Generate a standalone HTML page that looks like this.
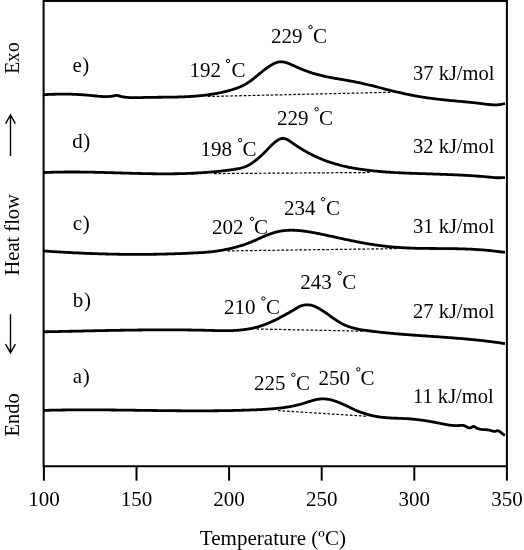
<!DOCTYPE html>
<html><head><meta charset="utf-8"><style>
html,body{margin:0;padding:0;background:#fff;}
body{width:524px;height:550px;overflow:hidden;font-family:"Liberation Serif",serif;}
svg{display:block;will-change:transform;}
</style></head><body>
<svg width="524" height="550" viewBox="0 0 524 550">
<rect x="0" y="0" width="524" height="550" fill="#fff"/>
<path d="M43.6,1.1 H506.9 V466.2 H43.6 Z" fill="none" stroke="#000" stroke-width="2"/>
<line x1="43.90" y1="466" x2="43.90" y2="480.7" stroke="#000" stroke-width="2"/>
<line x1="136.50" y1="466" x2="136.50" y2="480.7" stroke="#000" stroke-width="2"/>
<line x1="229.10" y1="466" x2="229.10" y2="480.7" stroke="#000" stroke-width="2"/>
<line x1="321.70" y1="466" x2="321.70" y2="480.7" stroke="#000" stroke-width="2"/>
<line x1="414.30" y1="466" x2="414.30" y2="480.7" stroke="#000" stroke-width="2"/>
<line x1="506.90" y1="466" x2="506.90" y2="480.7" stroke="#000" stroke-width="2"/>
<path d="M44.0,94.74 L45.0,94.68 L46.0,94.62 L47.0,94.56 L48.0,94.51 L49.0,94.46 L50.0,94.42 L51.0,94.37 L52.0,94.34 L53.0,94.30 L54.0,94.27 L55.0,94.24 L56.0,94.21 L57.0,94.19 L58.0,94.17 L59.0,94.15 L60.0,94.14 L61.0,94.13 L62.0,94.12 L63.0,94.12 L64.0,94.12 L65.0,94.13 L66.0,94.13 L67.0,94.14 L68.0,94.16 L69.0,94.18 L70.0,94.20 L71.0,94.22 L72.0,94.25 L73.0,94.28 L74.0,94.32 L75.0,94.36 L76.0,94.40 L77.0,94.45 L78.0,94.49 L79.0,94.55 L80.0,94.61 L81.0,94.67 L82.0,94.73 L83.0,94.80 L84.0,94.87 L85.0,94.95 L86.0,95.03 L87.0,95.11 L88.0,95.20 L89.0,95.29 L90.0,95.38 L91.0,95.48 L92.0,95.58 L93.0,95.68 L94.0,95.79 L95.0,95.89 L96.0,96.00 L97.0,96.10 L98.0,96.19 L99.0,96.28 L100.0,96.36 L101.0,96.43 L102.0,96.49 L103.0,96.54 L104.0,96.58 L105.0,96.60 L106.0,96.60 L107.0,96.59 L108.0,96.55 L109.0,96.50 L110.0,96.42 L111.0,96.32 L112.0,96.20 L113.0,96.03 L114.0,95.78 L115.0,95.52 L116.0,95.39 L117.0,95.45 L118.0,95.66 L119.0,95.94 L120.0,96.20 L121.0,96.44 L122.0,96.65 L123.0,96.84 L124.0,97.01 L125.0,97.15 L126.0,97.28 L127.0,97.38 L128.0,97.47 L129.0,97.54 L130.0,97.60 L131.0,97.65 L132.0,97.68 L133.0,97.70 L134.0,97.70 L135.0,97.70 L136.0,97.70 L137.0,97.68 L138.0,97.66 L139.0,97.64 L140.0,97.61 L141.0,97.58 L142.0,97.55 L143.0,97.52 L144.0,97.49 L145.0,97.47 L146.0,97.44 L147.0,97.42 L148.0,97.40 L149.0,97.38 L150.0,97.36 L151.0,97.35 L152.0,97.33 L153.0,97.32 L154.0,97.31 L155.0,97.30 L156.0,97.29 L157.0,97.28 L158.0,97.27 L159.0,97.26 L160.0,97.25 L161.0,97.24 L162.0,97.23 L163.0,97.22 L164.0,97.21 L165.0,97.21 L166.0,97.20 L167.0,97.19 L168.0,97.17 L169.0,97.16 L170.0,97.15 L171.0,97.14 L172.0,97.12 L173.0,97.11 L174.0,97.09 L175.0,97.07 L176.0,97.05 L177.0,97.03 L178.0,97.00 L179.0,96.97 L180.0,96.95 L181.0,96.91 L182.0,96.88 L183.0,96.84 L184.0,96.81 L185.0,96.76 L186.0,96.72 L187.0,96.67 L188.0,96.62 L189.0,96.57 L190.0,96.51 L191.0,96.45 L192.0,96.39 L193.0,96.32 L194.0,96.25 L195.0,96.17 L196.0,96.09 L197.0,96.00 L198.0,95.92 L199.0,95.82 L200.0,95.73 L201.0,95.62 L202.0,95.52 L203.0,95.41 L204.0,95.29 L205.0,95.17 L206.0,95.05 L207.0,94.92 L208.0,94.79 L209.0,94.65 L210.0,94.51 L211.0,94.36 L212.0,94.21 L213.0,94.05 L214.0,93.88 L215.0,93.71 L216.0,93.53 L217.0,93.35 L218.0,93.16 L219.0,92.96 L220.0,92.75 L221.0,92.54 L222.0,92.32 L223.0,92.09 L224.0,91.86 L225.0,91.62 L226.0,91.37 L227.0,91.11 L228.0,90.85 L229.0,90.58 L230.0,90.30 L231.0,90.01 L232.0,89.72 L233.0,89.42 L234.0,89.10 L235.0,88.78 L236.0,88.44 L237.0,88.09 L238.0,87.72 L239.0,87.32 L240.0,86.91 L241.0,86.47 L242.0,86.01 L243.0,85.52 L244.0,85.01 L245.0,84.47 L246.0,83.90 L247.0,83.30 L248.0,82.67 L249.0,82.01 L250.0,81.31 L251.0,80.58 L252.0,79.83 L253.0,79.05 L254.0,78.26 L255.0,77.45 L256.0,76.63 L257.0,75.81 L258.0,74.98 L259.0,74.16 L260.0,73.34 L261.0,72.53 L262.0,71.73 L263.0,70.93 L264.0,70.15 L265.0,69.38 L266.0,68.64 L267.0,67.91 L268.0,67.20 L269.0,66.52 L270.0,65.86 L271.0,65.23 L272.0,64.63 L273.0,64.08 L274.0,63.57 L275.0,63.12 L276.0,62.74 L277.0,62.41 L278.0,62.16 L279.0,61.98 L280.0,61.87 L281.0,61.84 L282.0,61.88 L283.0,61.98 L284.0,62.14 L285.0,62.36 L286.0,62.63 L287.0,62.93 L288.0,63.28 L289.0,63.66 L290.0,64.06 L291.0,64.48 L292.0,64.92 L293.0,65.37 L294.0,65.81 L295.0,66.26 L296.0,66.71 L297.0,67.15 L298.0,67.60 L299.0,68.04 L300.0,68.47 L301.0,68.90 L302.0,69.32 L303.0,69.73 L304.0,70.14 L305.0,70.53 L306.0,70.92 L307.0,71.29 L308.0,71.65 L309.0,72.00 L310.0,72.34 L311.0,72.67 L312.0,72.99 L313.0,73.29 L314.0,73.59 L315.0,73.89 L316.0,74.17 L317.0,74.44 L318.0,74.71 L319.0,74.97 L320.0,75.22 L321.0,75.46 L322.0,75.70 L323.0,75.93 L324.0,76.16 L325.0,76.38 L326.0,76.59 L327.0,76.80 L328.0,77.00 L329.0,77.20 L330.0,77.40 L331.0,77.59 L332.0,77.78 L333.0,77.96 L334.0,78.15 L335.0,78.33 L336.0,78.50 L337.0,78.68 L338.0,78.85 L339.0,79.03 L340.0,79.20 L341.0,79.37 L342.0,79.54 L343.0,79.71 L344.0,79.88 L345.0,80.05 L346.0,80.22 L347.0,80.40 L348.0,80.57 L349.0,80.75 L350.0,80.93 L351.0,81.11 L352.0,81.30 L353.0,81.49 L354.0,81.68 L355.0,81.87 L356.0,82.07 L357.0,82.28 L358.0,82.49 L359.0,82.70 L360.0,82.91 L361.0,83.13 L362.0,83.36 L363.0,83.58 L364.0,83.81 L365.0,84.04 L366.0,84.28 L367.0,84.51 L368.0,84.75 L369.0,84.99 L370.0,85.24 L371.0,85.48 L372.0,85.73 L373.0,85.98 L374.0,86.23 L375.0,86.48 L376.0,86.73 L377.0,86.99 L378.0,87.24 L379.0,87.49 L380.0,87.75 L381.0,88.01 L382.0,88.26 L383.0,88.52 L384.0,88.77 L385.0,89.03 L386.0,89.28 L387.0,89.54 L388.0,89.79 L389.0,90.04 L390.0,90.30 L391.0,90.55 L392.0,90.79 L393.0,91.04 L394.0,91.29 L395.0,91.53 L396.0,91.77 L397.0,92.01 L398.0,92.25 L399.0,92.48 L400.0,92.71 L401.0,92.94 L402.0,93.17 L403.0,93.39 L404.0,93.61 L405.0,93.83 L406.0,94.04 L407.0,94.25 L408.0,94.46 L409.0,94.66 L410.0,94.86 L411.0,95.06 L412.0,95.25 L413.0,95.45 L414.0,95.63 L415.0,95.82 L416.0,96.00 L417.0,96.18 L418.0,96.36 L419.0,96.53 L420.0,96.70 L421.0,96.86 L422.0,97.03 L423.0,97.19 L424.0,97.34 L425.0,97.49 L426.0,97.65 L427.0,97.79 L428.0,97.94 L429.0,98.08 L430.0,98.21 L431.0,98.35 L432.0,98.48 L433.0,98.61 L434.0,98.73 L435.0,98.86 L436.0,98.98 L437.0,99.09 L438.0,99.21 L439.0,99.32 L440.0,99.43 L441.0,99.54 L442.0,99.65 L443.0,99.75 L444.0,99.86 L445.0,99.96 L446.0,100.06 L447.0,100.16 L448.0,100.26 L449.0,100.35 L450.0,100.45 L451.0,100.54 L452.0,100.64 L453.0,100.73 L454.0,100.82 L455.0,100.92 L456.0,101.01 L457.0,101.10 L458.0,101.19 L459.0,101.28 L460.0,101.38 L461.0,101.47 L462.0,101.56 L463.0,101.65 L464.0,101.75 L465.0,101.84 L466.0,101.93 L467.0,102.03 L468.0,102.13 L469.0,102.22 L470.0,102.32 L471.0,102.42 L472.0,102.52 L473.0,102.63 L474.0,102.73 L475.0,102.84 L476.0,102.95 L477.0,103.06 L478.0,103.17 L479.0,103.29 L480.0,103.41 L481.0,103.53 L482.0,103.65 L483.0,103.77 L484.0,103.90 L485.0,104.03 L486.0,104.15 L487.0,104.28 L488.0,104.39 L489.0,104.50 L490.0,104.59 L491.0,104.68 L492.0,104.75 L493.0,104.80 L494.0,104.84 L495.0,104.85 L496.0,104.85 L497.0,104.81 L498.0,104.76 L499.0,104.67 L500.0,104.55 L501.0,104.41 L502.0,104.22 L503.0,104.00 L504.0,103.75 L505.0,103.45" fill="none" stroke="#000" stroke-width="2.8" stroke-linejoin="round" stroke-linecap="butt"/>
<path d="M44.0,172.57 L45.0,172.53 L46.0,172.49 L47.0,172.44 L48.0,172.41 L49.0,172.37 L50.0,172.33 L51.0,172.30 L52.0,172.27 L53.0,172.24 L54.0,172.21 L55.0,172.18 L56.0,172.16 L57.0,172.13 L58.0,172.11 L59.0,172.09 L60.0,172.08 L61.0,172.06 L62.0,172.04 L63.0,172.03 L64.0,172.02 L65.0,172.01 L66.0,172.00 L67.0,171.99 L68.0,171.99 L69.0,171.98 L70.0,171.98 L71.0,171.98 L72.0,171.98 L73.0,171.98 L74.0,171.98 L75.0,171.98 L76.0,171.99 L77.0,171.99 L78.0,172.00 L79.0,172.01 L80.0,172.02 L81.0,172.03 L82.0,172.04 L83.0,172.05 L84.0,172.06 L85.0,172.08 L86.0,172.09 L87.0,172.11 L88.0,172.13 L89.0,172.14 L90.0,172.16 L91.0,172.18 L92.0,172.20 L93.0,172.22 L94.0,172.24 L95.0,172.26 L96.0,172.29 L97.0,172.31 L98.0,172.33 L99.0,172.36 L100.0,172.38 L101.0,172.41 L102.0,172.43 L103.0,172.46 L104.0,172.49 L105.0,172.51 L106.0,172.54 L107.0,172.57 L108.0,172.60 L109.0,172.63 L110.0,172.65 L111.0,172.68 L112.0,172.71 L113.0,172.74 L114.0,172.77 L115.0,172.80 L116.0,172.83 L117.0,172.86 L118.0,172.89 L119.0,172.92 L120.0,172.95 L121.0,172.98 L122.0,173.01 L123.0,173.04 L124.0,173.07 L125.0,173.10 L126.0,173.13 L127.0,173.16 L128.0,173.18 L129.0,173.21 L130.0,173.24 L131.0,173.27 L132.0,173.30 L133.0,173.32 L134.0,173.35 L135.0,173.38 L136.0,173.40 L137.0,173.43 L138.0,173.45 L139.0,173.48 L140.0,173.50 L141.0,173.52 L142.0,173.55 L143.0,173.57 L144.0,173.59 L145.0,173.61 L146.0,173.63 L147.0,173.65 L148.0,173.67 L149.0,173.68 L150.0,173.70 L151.0,173.72 L152.0,173.73 L153.0,173.74 L154.0,173.76 L155.0,173.77 L156.0,173.78 L157.0,173.79 L158.0,173.80 L159.0,173.81 L160.0,173.81 L161.0,173.82 L162.0,173.82 L163.0,173.83 L164.0,173.83 L165.0,173.83 L166.0,173.83 L167.0,173.83 L168.0,173.82 L169.0,173.82 L170.0,173.81 L171.0,173.80 L172.0,173.80 L173.0,173.78 L174.0,173.77 L175.0,173.76 L176.0,173.74 L177.0,173.73 L178.0,173.71 L179.0,173.69 L180.0,173.67 L181.0,173.65 L182.0,173.62 L183.0,173.59 L184.0,173.57 L185.0,173.54 L186.0,173.50 L187.0,173.47 L188.0,173.43 L189.0,173.40 L190.0,173.36 L191.0,173.32 L192.0,173.27 L193.0,173.23 L194.0,173.18 L195.0,173.13 L196.0,173.08 L197.0,173.02 L198.0,172.97 L199.0,172.91 L200.0,172.85 L201.0,172.79 L202.0,172.72 L203.0,172.66 L204.0,172.59 L205.0,172.52 L206.0,172.44 L207.0,172.37 L208.0,172.29 L209.0,172.21 L210.0,172.13 L211.0,172.05 L212.0,171.96 L213.0,171.88 L214.0,171.79 L215.0,171.69 L216.0,171.60 L217.0,171.50 L218.0,171.40 L219.0,171.30 L220.0,171.19 L221.0,171.08 L222.0,170.97 L223.0,170.86 L224.0,170.74 L225.0,170.62 L226.0,170.50 L227.0,170.37 L228.0,170.24 L229.0,170.11 L230.0,169.98 L231.0,169.84 L232.0,169.70 L233.0,169.55 L234.0,169.40 L235.0,169.25 L236.0,169.08 L237.0,168.91 L238.0,168.72 L239.0,168.51 L240.0,168.29 L241.0,168.04 L242.0,167.77 L243.0,167.47 L244.0,167.14 L245.0,166.78 L246.0,166.38 L247.0,165.95 L248.0,165.47 L249.0,164.95 L250.0,164.39 L251.0,163.78 L252.0,163.14 L253.0,162.45 L254.0,161.73 L255.0,160.97 L256.0,160.19 L257.0,159.36 L258.0,158.52 L259.0,157.64 L260.0,156.74 L261.0,155.82 L262.0,154.88 L263.0,153.91 L264.0,152.93 L265.0,151.94 L266.0,150.94 L267.0,149.92 L268.0,148.89 L269.0,147.86 L270.0,146.84 L271.0,145.82 L272.0,144.84 L273.0,143.88 L274.0,142.97 L275.0,142.12 L276.0,141.33 L277.0,140.61 L278.0,139.98 L279.0,139.44 L280.0,139.01 L281.0,138.69 L282.0,138.50 L283.0,138.44 L284.0,138.52 L285.0,138.73 L286.0,139.05 L287.0,139.48 L288.0,140.00 L289.0,140.60 L290.0,141.25 L291.0,141.94 L292.0,142.65 L293.0,143.36 L294.0,144.06 L295.0,144.75 L296.0,145.43 L297.0,146.10 L298.0,146.75 L299.0,147.40 L300.0,148.03 L301.0,148.65 L302.0,149.25 L303.0,149.85 L304.0,150.44 L305.0,151.01 L306.0,151.58 L307.0,152.13 L308.0,152.68 L309.0,153.21 L310.0,153.74 L311.0,154.26 L312.0,154.76 L313.0,155.26 L314.0,155.74 L315.0,156.22 L316.0,156.69 L317.0,157.15 L318.0,157.59 L319.0,158.03 L320.0,158.46 L321.0,158.88 L322.0,159.29 L323.0,159.69 L324.0,160.08 L325.0,160.46 L326.0,160.84 L327.0,161.20 L328.0,161.56 L329.0,161.90 L330.0,162.24 L331.0,162.57 L332.0,162.90 L333.0,163.21 L334.0,163.52 L335.0,163.82 L336.0,164.12 L337.0,164.41 L338.0,164.69 L339.0,164.97 L340.0,165.24 L341.0,165.50 L342.0,165.75 L343.0,166.00 L344.0,166.24 L345.0,166.47 L346.0,166.69 L347.0,166.91 L348.0,167.12 L349.0,167.32 L350.0,167.52 L351.0,167.71 L352.0,167.89 L353.0,168.07 L354.0,168.24 L355.0,168.41 L356.0,168.57 L357.0,168.73 L358.0,168.88 L359.0,169.03 L360.0,169.18 L361.0,169.33 L362.0,169.47 L363.0,169.60 L364.0,169.73 L365.0,169.86 L366.0,169.99 L367.0,170.12 L368.0,170.24 L369.0,170.36 L370.0,170.47 L371.0,170.59 L372.0,170.70 L373.0,170.81 L374.0,170.91 L375.0,171.02 L376.0,171.12 L377.0,171.22 L378.0,171.32 L379.0,171.41 L380.0,171.50 L381.0,171.59 L382.0,171.68 L383.0,171.76 L384.0,171.84 L385.0,171.92 L386.0,171.99 L387.0,172.06 L388.0,172.13 L389.0,172.20 L390.0,172.26 L391.0,172.32 L392.0,172.38 L393.0,172.44 L394.0,172.50 L395.0,172.55 L396.0,172.61 L397.0,172.66 L398.0,172.71 L399.0,172.76 L400.0,172.81 L401.0,172.86 L402.0,172.91 L403.0,172.95 L404.0,173.00 L405.0,173.04 L406.0,173.08 L407.0,173.12 L408.0,173.16 L409.0,173.20 L410.0,173.23 L411.0,173.27 L412.0,173.30 L413.0,173.34 L414.0,173.37 L415.0,173.40 L416.0,173.43 L417.0,173.47 L418.0,173.50 L419.0,173.53 L420.0,173.56 L421.0,173.59 L422.0,173.62 L423.0,173.65 L424.0,173.69 L425.0,173.72 L426.0,173.75 L427.0,173.78 L428.0,173.82 L429.0,173.85 L430.0,173.89 L431.0,173.92 L432.0,173.96 L433.0,173.99 L434.0,174.03 L435.0,174.07 L436.0,174.10 L437.0,174.14 L438.0,174.18 L439.0,174.21 L440.0,174.25 L441.0,174.29 L442.0,174.32 L443.0,174.36 L444.0,174.40 L445.0,174.44 L446.0,174.47 L447.0,174.51 L448.0,174.55 L449.0,174.59 L450.0,174.63 L451.0,174.67 L452.0,174.71 L453.0,174.75 L454.0,174.79 L455.0,174.84 L456.0,174.88 L457.0,174.92 L458.0,174.97 L459.0,175.01 L460.0,175.06 L461.0,175.11 L462.0,175.15 L463.0,175.21 L464.0,175.26 L465.0,175.31 L466.0,175.37 L467.0,175.43 L468.0,175.49 L469.0,175.55 L470.0,175.61 L471.0,175.68 L472.0,175.74 L473.0,175.81 L474.0,175.88 L475.0,175.95 L476.0,176.02 L477.0,176.09 L478.0,176.17 L479.0,176.24 L480.0,176.32 L481.0,176.39 L482.0,176.47 L483.0,176.56 L484.0,176.64 L485.0,176.72 L486.0,176.81 L487.0,176.90 L488.0,176.98 L489.0,177.07 L490.0,177.16 L491.0,177.25 L492.0,177.34 L493.0,177.43 L494.0,177.52 L495.0,177.60 L496.0,177.67 L497.0,177.73 L498.0,177.76 L499.0,177.77 L500.0,177.75 L501.0,177.72 L502.0,177.66 L503.0,177.60 L504.0,177.56 L505.0,177.54" fill="none" stroke="#000" stroke-width="2.8" stroke-linejoin="round" stroke-linecap="butt"/>
<path d="M44.0,251.00 L45.0,251.07 L46.0,251.14 L47.0,251.20 L48.0,251.27 L49.0,251.34 L50.0,251.40 L51.0,251.47 L52.0,251.53 L53.0,251.59 L54.0,251.66 L55.0,251.72 L56.0,251.78 L57.0,251.84 L58.0,251.90 L59.0,251.96 L60.0,252.02 L61.0,252.08 L62.0,252.14 L63.0,252.20 L64.0,252.25 L65.0,252.31 L66.0,252.36 L67.0,252.42 L68.0,252.47 L69.0,252.52 L70.0,252.58 L71.0,252.63 L72.0,252.68 L73.0,252.73 L74.0,252.78 L75.0,252.83 L76.0,252.88 L77.0,252.92 L78.0,252.97 L79.0,253.02 L80.0,253.06 L81.0,253.11 L82.0,253.15 L83.0,253.19 L84.0,253.24 L85.0,253.28 L86.0,253.32 L87.0,253.36 L88.0,253.40 L89.0,253.44 L90.0,253.48 L91.0,253.51 L92.0,253.55 L93.0,253.59 L94.0,253.62 L95.0,253.66 L96.0,253.69 L97.0,253.72 L98.0,253.76 L99.0,253.79 L100.0,253.82 L101.0,253.85 L102.0,253.88 L103.0,253.90 L104.0,253.93 L105.0,253.96 L106.0,253.99 L107.0,254.01 L108.0,254.04 L109.0,254.06 L110.0,254.08 L111.0,254.10 L112.0,254.13 L113.0,254.15 L114.0,254.17 L115.0,254.18 L116.0,254.20 L117.0,254.22 L118.0,254.24 L119.0,254.25 L120.0,254.27 L121.0,254.28 L122.0,254.29 L123.0,254.31 L124.0,254.32 L125.0,254.33 L126.0,254.34 L127.0,254.35 L128.0,254.36 L129.0,254.36 L130.0,254.37 L131.0,254.38 L132.0,254.38 L133.0,254.38 L134.0,254.39 L135.0,254.39 L136.0,254.39 L137.0,254.39 L138.0,254.39 L139.0,254.39 L140.0,254.39 L141.0,254.39 L142.0,254.38 L143.0,254.38 L144.0,254.37 L145.0,254.37 L146.0,254.36 L147.0,254.35 L148.0,254.34 L149.0,254.33 L150.0,254.32 L151.0,254.31 L152.0,254.30 L153.0,254.28 L154.0,254.27 L155.0,254.25 L156.0,254.24 L157.0,254.22 L158.0,254.20 L159.0,254.18 L160.0,254.16 L161.0,254.14 L162.0,254.12 L163.0,254.10 L164.0,254.07 L165.0,254.05 L166.0,254.02 L167.0,254.00 L168.0,253.97 L169.0,253.94 L170.0,253.91 L171.0,253.88 L172.0,253.85 L173.0,253.82 L174.0,253.79 L175.0,253.76 L176.0,253.72 L177.0,253.69 L178.0,253.65 L179.0,253.62 L180.0,253.58 L181.0,253.54 L182.0,253.50 L183.0,253.46 L184.0,253.42 L185.0,253.38 L186.0,253.33 L187.0,253.29 L188.0,253.25 L189.0,253.20 L190.0,253.15 L191.0,253.11 L192.0,253.06 L193.0,253.01 L194.0,252.97 L195.0,252.92 L196.0,252.87 L197.0,252.82 L198.0,252.77 L199.0,252.72 L200.0,252.67 L201.0,252.61 L202.0,252.55 L203.0,252.49 L204.0,252.42 L205.0,252.35 L206.0,252.27 L207.0,252.19 L208.0,252.10 L209.0,252.00 L210.0,251.90 L211.0,251.80 L212.0,251.68 L213.0,251.56 L214.0,251.43 L215.0,251.30 L216.0,251.16 L217.0,251.01 L218.0,250.86 L219.0,250.70 L220.0,250.54 L221.0,250.37 L222.0,250.20 L223.0,250.02 L224.0,249.83 L225.0,249.64 L226.0,249.44 L227.0,249.23 L228.0,249.02 L229.0,248.80 L230.0,248.57 L231.0,248.33 L232.0,248.09 L233.0,247.84 L234.0,247.59 L235.0,247.33 L236.0,247.07 L237.0,246.80 L238.0,246.52 L239.0,246.24 L240.0,245.96 L241.0,245.67 L242.0,245.36 L243.0,245.05 L244.0,244.72 L245.0,244.39 L246.0,244.04 L247.0,243.68 L248.0,243.30 L249.0,242.92 L250.0,242.52 L251.0,242.11 L252.0,241.68 L253.0,241.25 L254.0,240.81 L255.0,240.37 L256.0,239.92 L257.0,239.47 L258.0,239.02 L259.0,238.56 L260.0,238.11 L261.0,237.66 L262.0,237.21 L263.0,236.77 L264.0,236.34 L265.0,235.91 L266.0,235.50 L267.0,235.10 L268.0,234.71 L269.0,234.34 L270.0,233.97 L271.0,233.63 L272.0,233.29 L273.0,232.98 L274.0,232.67 L275.0,232.39 L276.0,232.13 L277.0,231.88 L278.0,231.65 L279.0,231.43 L280.0,231.24 L281.0,231.06 L282.0,230.90 L283.0,230.76 L284.0,230.63 L285.0,230.52 L286.0,230.43 L287.0,230.36 L288.0,230.30 L289.0,230.25 L290.0,230.23 L291.0,230.21 L292.0,230.22 L293.0,230.23 L294.0,230.26 L295.0,230.30 L296.0,230.35 L297.0,230.41 L298.0,230.48 L299.0,230.57 L300.0,230.66 L301.0,230.76 L302.0,230.87 L303.0,230.99 L304.0,231.12 L305.0,231.25 L306.0,231.39 L307.0,231.54 L308.0,231.70 L309.0,231.86 L310.0,232.02 L311.0,232.19 L312.0,232.37 L313.0,232.55 L314.0,232.74 L315.0,232.92 L316.0,233.11 L317.0,233.31 L318.0,233.50 L319.0,233.70 L320.0,233.90 L321.0,234.11 L322.0,234.31 L323.0,234.52 L324.0,234.73 L325.0,234.94 L326.0,235.15 L327.0,235.37 L328.0,235.58 L329.0,235.80 L330.0,236.02 L331.0,236.24 L332.0,236.46 L333.0,236.68 L334.0,236.90 L335.0,237.12 L336.0,237.34 L337.0,237.56 L338.0,237.78 L339.0,238.00 L340.0,238.22 L341.0,238.44 L342.0,238.66 L343.0,238.87 L344.0,239.09 L345.0,239.31 L346.0,239.52 L347.0,239.73 L348.0,239.95 L349.0,240.16 L350.0,240.37 L351.0,240.57 L352.0,240.78 L353.0,240.98 L354.0,241.18 L355.0,241.38 L356.0,241.58 L357.0,241.77 L358.0,241.97 L359.0,242.16 L360.0,242.35 L361.0,242.53 L362.0,242.72 L363.0,242.90 L364.0,243.08 L365.0,243.26 L366.0,243.43 L367.0,243.61 L368.0,243.78 L369.0,243.94 L370.0,244.11 L371.0,244.27 L372.0,244.43 L373.0,244.59 L374.0,244.74 L375.0,244.89 L376.0,245.04 L377.0,245.18 L378.0,245.32 L379.0,245.46 L380.0,245.60 L381.0,245.73 L382.0,245.85 L383.0,245.98 L384.0,246.10 L385.0,246.22 L386.0,246.33 L387.0,246.44 L388.0,246.55 L389.0,246.65 L390.0,246.75 L391.0,246.84 L392.0,246.93 L393.0,247.02 L394.0,247.11 L395.0,247.19 L396.0,247.27 L397.0,247.34 L398.0,247.42 L399.0,247.49 L400.0,247.55 L401.0,247.61 L402.0,247.68 L403.0,247.73 L404.0,247.79 L405.0,247.84 L406.0,247.89 L407.0,247.94 L408.0,247.98 L409.0,248.02 L410.0,248.06 L411.0,248.10 L412.0,248.14 L413.0,248.17 L414.0,248.20 L415.0,248.23 L416.0,248.26 L417.0,248.28 L418.0,248.31 L419.0,248.33 L420.0,248.35 L421.0,248.37 L422.0,248.38 L423.0,248.40 L424.0,248.41 L425.0,248.43 L426.0,248.44 L427.0,248.45 L428.0,248.46 L429.0,248.47 L430.0,248.48 L431.0,248.49 L432.0,248.50 L433.0,248.50 L434.0,248.51 L435.0,248.52 L436.0,248.52 L437.0,248.53 L438.0,248.53 L439.0,248.54 L440.0,248.55 L441.0,248.55 L442.0,248.56 L443.0,248.57 L444.0,248.57 L445.0,248.58 L446.0,248.59 L447.0,248.60 L448.0,248.61 L449.0,248.62 L450.0,248.63 L451.0,248.65 L452.0,248.66 L453.0,248.68 L454.0,248.69 L455.0,248.71 L456.0,248.73 L457.0,248.75 L458.0,248.77 L459.0,248.79 L460.0,248.82 L461.0,248.84 L462.0,248.87 L463.0,248.90 L464.0,248.93 L465.0,248.97 L466.0,249.00 L467.0,249.04 L468.0,249.08 L469.0,249.12 L470.0,249.16 L471.0,249.21 L472.0,249.26 L473.0,249.31 L474.0,249.36 L475.0,249.42 L476.0,249.48 L477.0,249.54 L478.0,249.60 L479.0,249.67 L480.0,249.74 L481.0,249.81 L482.0,249.89 L483.0,249.97 L484.0,250.05 L485.0,250.14 L486.0,250.23 L487.0,250.32 L488.0,250.41 L489.0,250.51 L490.0,250.61 L491.0,250.72 L492.0,250.82 L493.0,250.93 L494.0,251.04 L495.0,251.16 L496.0,251.27 L497.0,251.39 L498.0,251.50 L499.0,251.62 L500.0,251.74 L501.0,251.87 L502.0,251.99 L503.0,252.11 L504.0,252.23 L505.0,252.36" fill="none" stroke="#000" stroke-width="2.8" stroke-linejoin="round" stroke-linecap="butt"/>
<path d="M44.0,331.81 L45.0,331.79 L46.0,331.77 L47.0,331.75 L48.0,331.73 L49.0,331.71 L50.0,331.69 L51.0,331.67 L52.0,331.65 L53.0,331.63 L54.0,331.61 L55.0,331.59 L56.0,331.57 L57.0,331.55 L58.0,331.53 L59.0,331.51 L60.0,331.48 L61.0,331.46 L62.0,331.44 L63.0,331.42 L64.0,331.40 L65.0,331.38 L66.0,331.36 L67.0,331.34 L68.0,331.31 L69.0,331.29 L70.0,331.27 L71.0,331.25 L72.0,331.23 L73.0,331.21 L74.0,331.19 L75.0,331.16 L76.0,331.14 L77.0,331.12 L78.0,331.10 L79.0,331.08 L80.0,331.06 L81.0,331.04 L82.0,331.01 L83.0,330.99 L84.0,330.97 L85.0,330.95 L86.0,330.93 L87.0,330.91 L88.0,330.89 L89.0,330.86 L90.0,330.84 L91.0,330.82 L92.0,330.80 L93.0,330.78 L94.0,330.76 L95.0,330.74 L96.0,330.72 L97.0,330.70 L98.0,330.68 L99.0,330.66 L100.0,330.64 L101.0,330.62 L102.0,330.60 L103.0,330.58 L104.0,330.56 L105.0,330.54 L106.0,330.52 L107.0,330.50 L108.0,330.48 L109.0,330.47 L110.0,330.45 L111.0,330.43 L112.0,330.41 L113.0,330.39 L114.0,330.38 L115.0,330.36 L116.0,330.34 L117.0,330.32 L118.0,330.31 L119.0,330.29 L120.0,330.27 L121.0,330.26 L122.0,330.24 L123.0,330.23 L124.0,330.21 L125.0,330.20 L126.0,330.18 L127.0,330.17 L128.0,330.15 L129.0,330.14 L130.0,330.12 L131.0,330.11 L132.0,330.10 L133.0,330.08 L134.0,330.07 L135.0,330.06 L136.0,330.05 L137.0,330.04 L138.0,330.02 L139.0,330.01 L140.0,330.00 L141.0,329.99 L142.0,329.98 L143.0,329.97 L144.0,329.96 L145.0,329.95 L146.0,329.95 L147.0,329.94 L148.0,329.93 L149.0,329.92 L150.0,329.92 L151.0,329.91 L152.0,329.90 L153.0,329.90 L154.0,329.89 L155.0,329.89 L156.0,329.88 L157.0,329.88 L158.0,329.87 L159.0,329.87 L160.0,329.87 L161.0,329.86 L162.0,329.86 L163.0,329.86 L164.0,329.86 L165.0,329.86 L166.0,329.86 L167.0,329.86 L168.0,329.86 L169.0,329.86 L170.0,329.86 L171.0,329.87 L172.0,329.87 L173.0,329.87 L174.0,329.88 L175.0,329.88 L176.0,329.89 L177.0,329.89 L178.0,329.90 L179.0,329.90 L180.0,329.91 L181.0,329.92 L182.0,329.93 L183.0,329.93 L184.0,329.94 L185.0,329.95 L186.0,329.96 L187.0,329.97 L188.0,329.99 L189.0,330.00 L190.0,330.01 L191.0,330.02 L192.0,330.04 L193.0,330.05 L194.0,330.07 L195.0,330.08 L196.0,330.10 L197.0,330.12 L198.0,330.14 L199.0,330.15 L200.0,330.17 L201.0,330.19 L202.0,330.21 L203.0,330.23 L204.0,330.25 L205.0,330.28 L206.0,330.30 L207.0,330.32 L208.0,330.35 L209.0,330.37 L210.0,330.40 L211.0,330.43 L212.0,330.45 L213.0,330.48 L214.0,330.51 L215.0,330.53 L216.0,330.56 L217.0,330.58 L218.0,330.60 L219.0,330.62 L220.0,330.64 L221.0,330.66 L222.0,330.67 L223.0,330.68 L224.0,330.69 L225.0,330.69 L226.0,330.69 L227.0,330.68 L228.0,330.67 L229.0,330.65 L230.0,330.63 L231.0,330.61 L232.0,330.57 L233.0,330.53 L234.0,330.49 L235.0,330.43 L236.0,330.37 L237.0,330.31 L238.0,330.23 L239.0,330.15 L240.0,330.06 L241.0,329.96 L242.0,329.85 L243.0,329.74 L244.0,329.62 L245.0,329.49 L246.0,329.36 L247.0,329.21 L248.0,329.06 L249.0,328.89 L250.0,328.72 L251.0,328.53 L252.0,328.33 L253.0,328.12 L254.0,327.90 L255.0,327.66 L256.0,327.41 L257.0,327.14 L258.0,326.86 L259.0,326.56 L260.0,326.25 L261.0,325.92 L262.0,325.58 L263.0,325.23 L264.0,324.87 L265.0,324.49 L266.0,324.10 L267.0,323.70 L268.0,323.29 L269.0,322.87 L270.0,322.44 L271.0,322.00 L272.0,321.55 L273.0,321.08 L274.0,320.61 L275.0,320.13 L276.0,319.64 L277.0,319.15 L278.0,318.64 L279.0,318.13 L280.0,317.61 L281.0,317.08 L282.0,316.54 L283.0,316.00 L284.0,315.45 L285.0,314.90 L286.0,314.34 L287.0,313.79 L288.0,313.22 L289.0,312.66 L290.0,312.09 L291.0,311.52 L292.0,310.94 L293.0,310.34 L294.0,309.74 L295.0,309.13 L296.0,308.52 L297.0,307.92 L298.0,307.35 L299.0,306.81 L300.0,306.33 L301.0,305.91 L302.0,305.55 L303.0,305.27 L304.0,305.06 L305.0,304.91 L306.0,304.82 L307.0,304.79 L308.0,304.81 L309.0,304.89 L310.0,305.02 L311.0,305.21 L312.0,305.46 L313.0,305.76 L314.0,306.11 L315.0,306.51 L316.0,306.95 L317.0,307.44 L318.0,307.95 L319.0,308.50 L320.0,309.08 L321.0,309.69 L322.0,310.32 L323.0,310.97 L324.0,311.64 L325.0,312.32 L326.0,313.02 L327.0,313.72 L328.0,314.44 L329.0,315.15 L330.0,315.88 L331.0,316.59 L332.0,317.31 L333.0,318.02 L334.0,318.72 L335.0,319.41 L336.0,320.08 L337.0,320.74 L338.0,321.37 L339.0,321.99 L340.0,322.58 L341.0,323.14 L342.0,323.67 L343.0,324.17 L344.0,324.65 L345.0,325.11 L346.0,325.54 L347.0,325.94 L348.0,326.33 L349.0,326.69 L350.0,327.03 L351.0,327.36 L352.0,327.66 L353.0,327.95 L354.0,328.22 L355.0,328.47 L356.0,328.71 L357.0,328.93 L358.0,329.14 L359.0,329.34 L360.0,329.53 L361.0,329.70 L362.0,329.87 L363.0,330.03 L364.0,330.18 L365.0,330.33 L366.0,330.47 L367.0,330.61 L368.0,330.74 L369.0,330.87 L370.0,331.00 L371.0,331.12 L372.0,331.25 L373.0,331.37 L374.0,331.49 L375.0,331.61 L376.0,331.72 L377.0,331.84 L378.0,331.95 L379.0,332.06 L380.0,332.17 L381.0,332.28 L382.0,332.39 L383.0,332.49 L384.0,332.60 L385.0,332.70 L386.0,332.80 L387.0,332.90 L388.0,333.00 L389.0,333.09 L390.0,333.19 L391.0,333.28 L392.0,333.37 L393.0,333.47 L394.0,333.56 L395.0,333.65 L396.0,333.73 L397.0,333.82 L398.0,333.91 L399.0,333.99 L400.0,334.07 L401.0,334.16 L402.0,334.24 L403.0,334.32 L404.0,334.40 L405.0,334.48 L406.0,334.56 L407.0,334.63 L408.0,334.71 L409.0,334.79 L410.0,334.86 L411.0,334.94 L412.0,335.01 L413.0,335.09 L414.0,335.16 L415.0,335.23 L416.0,335.30 L417.0,335.38 L418.0,335.45 L419.0,335.52 L420.0,335.59 L421.0,335.66 L422.0,335.73 L423.0,335.80 L424.0,335.87 L425.0,335.94 L426.0,336.00 L427.0,336.07 L428.0,336.14 L429.0,336.21 L430.0,336.28 L431.0,336.35 L432.0,336.42 L433.0,336.48 L434.0,336.55 L435.0,336.62 L436.0,336.69 L437.0,336.76 L438.0,336.83 L439.0,336.90 L440.0,336.97 L441.0,337.04 L442.0,337.11 L443.0,337.18 L444.0,337.25 L445.0,337.32 L446.0,337.40 L447.0,337.47 L448.0,337.54 L449.0,337.62 L450.0,337.69 L451.0,337.77 L452.0,337.84 L453.0,337.92 L454.0,338.00 L455.0,338.07 L456.0,338.15 L457.0,338.23 L458.0,338.31 L459.0,338.39 L460.0,338.48 L461.0,338.56 L462.0,338.64 L463.0,338.73 L464.0,338.82 L465.0,338.90 L466.0,338.99 L467.0,339.08 L468.0,339.17 L469.0,339.26 L470.0,339.36 L471.0,339.45 L472.0,339.55 L473.0,339.64 L474.0,339.74 L475.0,339.84 L476.0,339.94 L477.0,340.05 L478.0,340.15 L479.0,340.26 L480.0,340.37 L481.0,340.47 L482.0,340.59 L483.0,340.70 L484.0,340.81 L485.0,340.93 L486.0,341.05 L487.0,341.16 L488.0,341.29 L489.0,341.41 L490.0,341.53 L491.0,341.66 L492.0,341.79 L493.0,341.92 L494.0,342.05 L495.0,342.19 L496.0,342.32 L497.0,342.46 L498.0,342.60 L499.0,342.75 L500.0,342.89 L501.0,343.04 L502.0,343.19 L503.0,343.34 L504.0,343.50 L505.0,343.66" fill="none" stroke="#000" stroke-width="2.8" stroke-linejoin="round" stroke-linecap="butt"/>
<path d="M44.0,410.39 L45.0,410.36 L46.0,410.33 L47.0,410.31 L48.0,410.28 L49.0,410.26 L50.0,410.24 L51.0,410.21 L52.0,410.19 L53.0,410.17 L54.0,410.15 L55.0,410.13 L56.0,410.11 L57.0,410.10 L58.0,410.08 L59.0,410.06 L60.0,410.05 L61.0,410.03 L62.0,410.02 L63.0,410.00 L64.0,409.99 L65.0,409.98 L66.0,409.97 L67.0,409.96 L68.0,409.95 L69.0,409.94 L70.0,409.93 L71.0,409.92 L72.0,409.91 L73.0,409.90 L74.0,409.90 L75.0,409.89 L76.0,409.88 L77.0,409.88 L78.0,409.87 L79.0,409.87 L80.0,409.87 L81.0,409.86 L82.0,409.86 L83.0,409.86 L84.0,409.86 L85.0,409.86 L86.0,409.86 L87.0,409.86 L88.0,409.86 L89.0,409.86 L90.0,409.86 L91.0,409.86 L92.0,409.86 L93.0,409.87 L94.0,409.87 L95.0,409.87 L96.0,409.88 L97.0,409.88 L98.0,409.89 L99.0,409.89 L100.0,409.90 L101.0,409.90 L102.0,409.91 L103.0,409.91 L104.0,409.92 L105.0,409.93 L106.0,409.94 L107.0,409.94 L108.0,409.95 L109.0,409.96 L110.0,409.97 L111.0,409.98 L112.0,409.99 L113.0,410.00 L114.0,410.01 L115.0,410.02 L116.0,410.03 L117.0,410.04 L118.0,410.05 L119.0,410.06 L120.0,410.07 L121.0,410.08 L122.0,410.09 L123.0,410.10 L124.0,410.11 L125.0,410.13 L126.0,410.14 L127.0,410.15 L128.0,410.16 L129.0,410.17 L130.0,410.19 L131.0,410.20 L132.0,410.21 L133.0,410.22 L134.0,410.24 L135.0,410.25 L136.0,410.26 L137.0,410.28 L138.0,410.29 L139.0,410.30 L140.0,410.31 L141.0,410.33 L142.0,410.34 L143.0,410.35 L144.0,410.37 L145.0,410.38 L146.0,410.39 L147.0,410.41 L148.0,410.42 L149.0,410.43 L150.0,410.44 L151.0,410.46 L152.0,410.47 L153.0,410.48 L154.0,410.50 L155.0,410.51 L156.0,410.52 L157.0,410.53 L158.0,410.54 L159.0,410.56 L160.0,410.57 L161.0,410.58 L162.0,410.59 L163.0,410.60 L164.0,410.61 L165.0,410.63 L166.0,410.64 L167.0,410.65 L168.0,410.66 L169.0,410.67 L170.0,410.68 L171.0,410.69 L172.0,410.70 L173.0,410.71 L174.0,410.72 L175.0,410.72 L176.0,410.73 L177.0,410.74 L178.0,410.75 L179.0,410.76 L180.0,410.76 L181.0,410.77 L182.0,410.78 L183.0,410.78 L184.0,410.79 L185.0,410.80 L186.0,410.80 L187.0,410.81 L188.0,410.81 L189.0,410.81 L190.0,410.82 L191.0,410.82 L192.0,410.82 L193.0,410.83 L194.0,410.83 L195.0,410.83 L196.0,410.83 L197.0,410.83 L198.0,410.83 L199.0,410.83 L200.0,410.83 L201.0,410.83 L202.0,410.83 L203.0,410.83 L204.0,410.82 L205.0,410.82 L206.0,410.82 L207.0,410.81 L208.0,410.81 L209.0,410.80 L210.0,410.80 L211.0,410.79 L212.0,410.78 L213.0,410.78 L214.0,410.77 L215.0,410.76 L216.0,410.75 L217.0,410.74 L218.0,410.73 L219.0,410.72 L220.0,410.71 L221.0,410.69 L222.0,410.68 L223.0,410.67 L224.0,410.65 L225.0,410.64 L226.0,410.62 L227.0,410.61 L228.0,410.59 L229.0,410.57 L230.0,410.55 L231.0,410.53 L232.0,410.51 L233.0,410.49 L234.0,410.47 L235.0,410.45 L236.0,410.42 L237.0,410.40 L238.0,410.37 L239.0,410.35 L240.0,410.32 L241.0,410.29 L242.0,410.27 L243.0,410.24 L244.0,410.21 L245.0,410.18 L246.0,410.15 L247.0,410.11 L248.0,410.08 L249.0,410.05 L250.0,410.01 L251.0,409.97 L252.0,409.94 L253.0,409.90 L254.0,409.86 L255.0,409.82 L256.0,409.78 L257.0,409.74 L258.0,409.69 L259.0,409.65 L260.0,409.60 L261.0,409.55 L262.0,409.49 L263.0,409.44 L264.0,409.38 L265.0,409.32 L266.0,409.26 L267.0,409.19 L268.0,409.12 L269.0,409.05 L270.0,408.97 L271.0,408.90 L272.0,408.81 L273.0,408.73 L274.0,408.64 L275.0,408.55 L276.0,408.46 L277.0,408.36 L278.0,408.26 L279.0,408.16 L280.0,408.05 L281.0,407.93 L282.0,407.81 L283.0,407.68 L284.0,407.55 L285.0,407.40 L286.0,407.26 L287.0,407.10 L288.0,406.94 L289.0,406.77 L290.0,406.59 L291.0,406.40 L292.0,406.20 L293.0,406.00 L294.0,405.79 L295.0,405.57 L296.0,405.34 L297.0,405.11 L298.0,404.86 L299.0,404.61 L300.0,404.35 L301.0,404.08 L302.0,403.80 L303.0,403.51 L304.0,403.22 L305.0,402.91 L306.0,402.59 L307.0,402.27 L308.0,401.95 L309.0,401.62 L310.0,401.30 L311.0,400.99 L312.0,400.69 L313.0,400.40 L314.0,400.12 L315.0,399.87 L316.0,399.64 L317.0,399.43 L318.0,399.26 L319.0,399.11 L320.0,399.01 L321.0,398.93 L322.0,398.89 L323.0,398.88 L324.0,398.91 L325.0,398.97 L326.0,399.05 L327.0,399.17 L328.0,399.31 L329.0,399.49 L330.0,399.68 L331.0,399.91 L332.0,400.16 L333.0,400.43 L334.0,400.73 L335.0,401.05 L336.0,401.39 L337.0,401.75 L338.0,402.12 L339.0,402.52 L340.0,402.92 L341.0,403.35 L342.0,403.78 L343.0,404.23 L344.0,404.68 L345.0,405.14 L346.0,405.62 L347.0,406.09 L348.0,406.57 L349.0,407.06 L350.0,407.54 L351.0,408.03 L352.0,408.52 L353.0,409.00 L354.0,409.47 L355.0,409.94 L356.0,410.38 L357.0,410.82 L358.0,411.23 L359.0,411.62 L360.0,411.98 L361.0,412.34 L362.0,412.67 L363.0,413.00 L364.0,413.32 L365.0,413.64 L366.0,413.95 L367.0,414.25 L368.0,414.55 L369.0,414.83 L370.0,415.10 L371.0,415.35 L372.0,415.59 L373.0,415.82 L374.0,416.03 L375.0,416.23 L376.0,416.41 L377.0,416.59 L378.0,416.75 L379.0,416.90 L380.0,417.04 L381.0,417.16 L382.0,417.28 L383.0,417.39 L384.0,417.49 L385.0,417.59 L386.0,417.67 L387.0,417.75 L388.0,417.82 L389.0,417.89 L390.0,417.95 L391.0,418.01 L392.0,418.06 L393.0,418.11 L394.0,418.15 L395.0,418.19 L396.0,418.24 L397.0,418.27 L398.0,418.31 L399.0,418.35 L400.0,418.39 L401.0,418.43 L402.0,418.47 L403.0,418.51 L404.0,418.55 L405.0,418.60 L406.0,418.65 L407.0,418.71 L408.0,418.77 L409.0,418.83 L410.0,418.90 L411.0,418.98 L412.0,419.06 L413.0,419.15 L414.0,419.25 L415.0,419.35 L416.0,419.45 L417.0,419.56 L418.0,419.68 L419.0,419.80 L420.0,419.93 L421.0,420.06 L422.0,420.20 L423.0,420.34 L424.0,420.49 L425.0,420.64 L426.0,420.80 L427.0,420.95 L428.0,421.12 L429.0,421.29 L430.0,421.46 L431.0,421.63 L432.0,421.81 L433.0,422.00 L434.0,422.18 L435.0,422.37 L436.0,422.56 L437.0,422.76 L438.0,422.96 L439.0,423.16 L440.0,423.36 L441.0,423.56 L442.0,423.77 L443.0,423.97 L444.0,424.16 L445.0,424.35 L446.0,424.53 L447.0,424.71 L448.0,424.87 L449.0,425.02 L450.0,425.16 L451.0,425.28 L452.0,425.38 L453.0,425.47 L454.0,425.54 L455.0,425.58 L456.0,425.60 L457.0,425.60 L458.0,425.57 L459.0,425.51 L460.0,425.43 L461.0,425.36 L462.0,425.34 L463.0,425.43 L464.0,425.67 L465.0,426.05 L466.0,426.53 L467.0,427.06 L468.0,427.56 L469.0,427.90 L470.0,427.96 L471.0,427.62 L472.0,426.98 L473.0,426.48 L474.0,426.47 L475.0,427.00 L476.0,427.65 L477.0,428.19 L478.0,428.61 L479.0,428.94 L480.0,429.18 L481.0,429.35 L482.0,429.47 L483.0,429.55 L484.0,429.60 L485.0,429.65 L486.0,429.70 L487.0,429.77 L488.0,429.87 L489.0,430.03 L490.0,430.25 L491.0,430.55 L492.0,430.91 L493.0,431.23 L494.0,431.41 L495.0,431.36 L496.0,431.06 L497.0,430.76 L498.0,430.73 L499.0,431.07 L500.0,431.71 L501.0,432.52 L502.0,433.38 L503.0,434.18 L504.0,434.80 L505.0,435.12" fill="none" stroke="#000" stroke-width="2.8" stroke-linejoin="round" stroke-linecap="butt"/>
<line x1="207.7" y1="96.5" x2="390.3" y2="92.3" stroke="#000" stroke-width="1.2" stroke-dasharray="2.7 1.8"/>
<line x1="214" y1="173.6" x2="370" y2="172.5" stroke="#000" stroke-width="1.2" stroke-dasharray="2.7 1.8"/>
<line x1="227.4" y1="250.9" x2="397.6" y2="248.6" stroke="#000" stroke-width="1.2" stroke-dasharray="2.7 1.8"/>
<line x1="256.5" y1="329.0" x2="364" y2="331.2" stroke="#000" stroke-width="1.2" stroke-dasharray="2.7 1.8"/>
<line x1="278" y1="410.6" x2="367.5" y2="416.3" stroke="#000" stroke-width="1.2" stroke-dasharray="2.7 1.8"/>
<path d="M10.5,156 V115.2 M5.6,123.6 L10.5,114.9 L15.3,123.6" fill="none" stroke="#000" stroke-width="1.4"/>
<path d="M10.5,314.3 V352.6 M5.6,344.1 L10.5,352.9 L15.4,344.1" fill="none" stroke="#000" stroke-width="1.4"/>
<g font-family="Liberation Serif" font-size="21" fill="#000">
<text x="43.90" y="505.6" text-anchor="middle">100</text>
<text x="136.50" y="505.6" text-anchor="middle">150</text>
<text x="229.10" y="505.6" text-anchor="middle">200</text>
<text x="321.70" y="505.6" text-anchor="middle">250</text>
<text x="414.30" y="505.6" text-anchor="middle">300</text>
<text x="506.90" y="505.6" text-anchor="middle">350</text>
<text x="72.4" y="71.8" letter-spacing="0.6">e)</text>
<text x="72.2" y="148" letter-spacing="0.6">d)</text>
<text x="72.8" y="229.5" letter-spacing="0.6">c)</text>
<text x="72.8" y="306.5" letter-spacing="0.6">b)</text>
<text x="72.8" y="382.5" letter-spacing="0.6">a)</text>
<text x="189.4" y="76.8">192</text><text x="231.40" y="76.8">C</text><circle cx="228.05" cy="60.97" r="1.7" fill="none" stroke="#000" stroke-width="1.0"/>
<text x="270.9" y="43.0">229</text><text x="312.90" y="43.0">C</text><circle cx="310.50" cy="27.10" r="1.7" fill="none" stroke="#000" stroke-width="1.0"/>
<text x="200.5" y="155.9">198</text><text x="242.50" y="155.9">C</text><circle cx="240.10" cy="140.20" r="1.7" fill="none" stroke="#000" stroke-width="1.0"/>
<text x="277" y="124.9">229</text><text x="319.00" y="124.9">C</text><circle cx="316.60" cy="109.20" r="1.7" fill="none" stroke="#000" stroke-width="1.0"/>
<text x="212" y="234.2">202</text><text x="254.00" y="234.2">C</text><circle cx="252.00" cy="218.85" r="1.7" fill="none" stroke="#000" stroke-width="1.0"/>
<text x="284" y="214.8">234</text><text x="326.00" y="214.8">C</text><circle cx="323.05" cy="199.20" r="1.7" fill="none" stroke="#000" stroke-width="1.0"/>
<text x="224" y="314.2">210</text><text x="266.00" y="314.2">C</text><circle cx="263.40" cy="298.50" r="1.7" fill="none" stroke="#000" stroke-width="1.0"/>
<text x="300.25" y="288.6">243</text><text x="342.25" y="288.6">C</text><circle cx="339.70" cy="273.10" r="1.7" fill="none" stroke="#000" stroke-width="1.0"/>
<text x="254" y="390.2">225</text><text x="296.00" y="390.2">C</text><circle cx="293.40" cy="374.85" r="1.7" fill="none" stroke="#000" stroke-width="1.0"/>
<text x="318.5" y="384.7">250</text><text x="360.50" y="384.7">C</text><circle cx="358.30" cy="369.35" r="1.7" fill="none" stroke="#000" stroke-width="1.0"/>
<text transform="translate(413.0,80) scale(0.977,1)">37 kJ/mol</text>
<text transform="translate(413.0,153) scale(0.977,1)">32 kJ/mol</text>
<text transform="translate(413.0,232.5) scale(0.977,1)">31 kJ/mol</text>
<text transform="translate(413.0,317.5) scale(0.977,1)">27 kJ/mol</text>
<text transform="translate(413.0,402.5) scale(0.977,1)">11 kJ/mol</text>
<text x="199.8" y="544.5" letter-spacing="0.04">Temperature (&#xBA;C)</text>
<text transform="translate(19.3,73.8) rotate(-90) scale(0.93,1)">Exo</text>
<text transform="translate(19.3,275.4) rotate(-90) scale(0.975,1)">Heat flow</text>
<text transform="translate(19.3,436.4) rotate(-90) scale(0.97,1)">Endo</text>
</g>
</svg>
</body></html>
